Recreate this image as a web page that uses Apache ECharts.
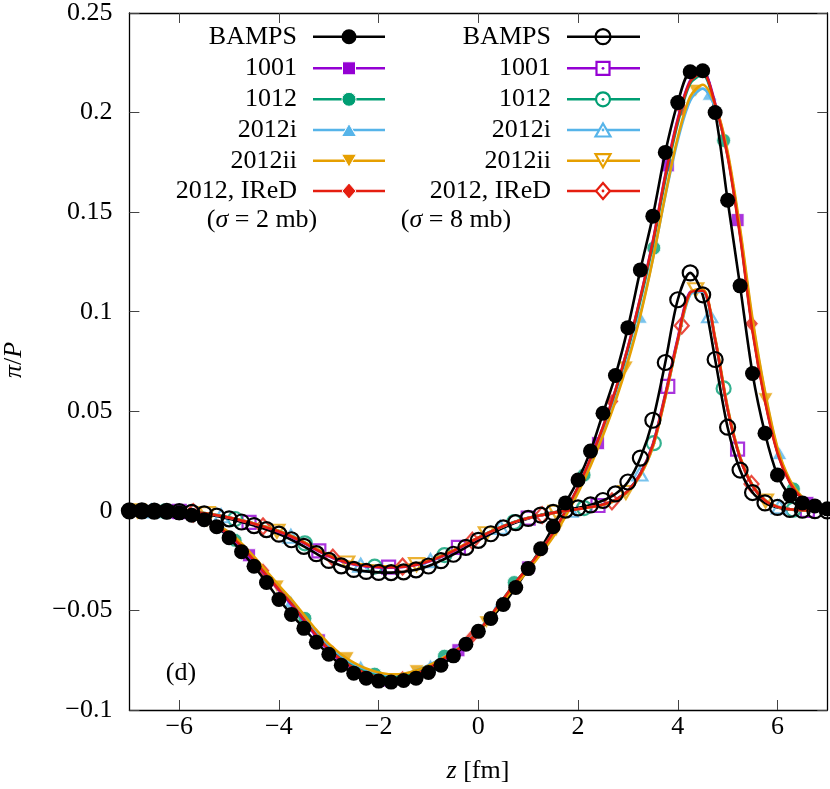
<!DOCTYPE html>
<html>
<head>
<meta charset="utf-8">
<script src="https://cdn.jsdelivr.net/npm/echarts@6/dist/echarts.min.js"></script>
<style>
  html, body { margin: 0; padding: 0; background: #fff; }
  #chart { width: 830px; height: 789px; }
</style>
</head>
<body>
<div id="chart"></div>
<script>
// z grid (fm) for all curves
const zGrid = [-7, -6.75, -6.5, -6.25, -6, -5.75, -5.5, -5.25, -5, -4.75,
  -4.5, -4.25, -4, -3.75, -3.5, -3.25, -3, -2.75, -2.5, -2.25,
  -2, -1.75, -1.5, -1.25, -1, -0.75, -0.5, -0.25, 0, 0.25,
  0.5, 0.75, 1, 1.25, 1.5, 1.75, 2, 2.25, 2.5, 2.75,
  3, 3.25, 3.5, 3.75, 4, 4.25, 4.5, 4.75, 5, 5.25,
  5.5, 5.75, 6, 6.25, 6.5, 6.75, 7];

const xTicks = [-6, -4, -2, 0, 2, 4, 6];
const seriesNames = ['BAMPS', '1001', '1012', '2012i', '2012ii', '2012, IReD'];

// sigma = 2 mb
const bamps2 = [0.0000, 0.0000, -0.0002, -0.0005, -0.0010, -0.0022, -0.0045, -0.0080, -0.0135, -0.0205,
  -0.0278, -0.0360, -0.0445, -0.0520, -0.0590, -0.0660, -0.0720, -0.0775, -0.0815, -0.0840,
  -0.0855, -0.0860, -0.0852, -0.0840, -0.0812, -0.0775, -0.0728, -0.0670, -0.0605, -0.0540,
  -0.0470, -0.0385, -0.0290, -0.0190, -0.0080, 0.0040, 0.0155, 0.0300, 0.0490, 0.0680,
  0.0920, 0.1210, 0.1480, 0.1800, 0.2050, 0.2205, 0.2210, 0.2000, 0.1560, 0.1130,
  0.0690, 0.0390, 0.0180, 0.0078, 0.0040, 0.0025, 0.0010];
const m1001_2 = [0.0000, 0.0000, -0.0003, -0.0006, -0.0012, -0.0024, -0.0047, -0.0081, -0.0124, -0.0183,
  -0.0253, -0.0327, -0.0400, -0.0472, -0.0552, -0.0632, -0.0702, -0.0755, -0.0795, -0.0824,
  -0.0844, -0.0853, -0.0847, -0.0826, -0.0795, -0.0757, -0.0716, -0.0668, -0.0607, -0.0527,
  -0.0444, -0.0360, -0.0284, -0.0202, -0.0111, 0.0000, 0.0121, 0.0263, 0.0422, 0.0607,
  0.0822, 0.1073, 0.1355, 0.1688, 0.1968, 0.2162, 0.2205, 0.2048, 0.1792, 0.1395,
  0.0912, 0.0558, 0.0295, 0.0143, 0.0062, 0.0023, 0.0006];
const m1012_2 = [0.0000, 0.0000, -0.0003, -0.0006, -0.0012, -0.0023, -0.0044, -0.0076, -0.0117, -0.0174,
  -0.0243, -0.0316, -0.0388, -0.0458, -0.0537, -0.0615, -0.0684, -0.0737, -0.0776, -0.0806,
  -0.0826, -0.0836, -0.0832, -0.0813, -0.0785, -0.0748, -0.0709, -0.0663, -0.0603, -0.0524,
  -0.0441, -0.0357, -0.0281, -0.0199, -0.0110, -0.0002, 0.0117, 0.0257, 0.0413, 0.0596,
  0.0808, 0.1055, 0.1335, 0.1662, 0.1945, 0.2145, 0.2190, 0.2035, 0.1785, 0.1390,
  0.0912, 0.0560, 0.0297, 0.0144, 0.0062, 0.0023, 0.0006];
const m2012i_2 = [0.0000, 0.0000, -0.0003, -0.0006, -0.0011, -0.0021, -0.0041, -0.0072, -0.0112, -0.0168,
  -0.0236, -0.0309, -0.0381, -0.0451, -0.0529, -0.0607, -0.0675, -0.0728, -0.0768, -0.0797,
  -0.0816, -0.0824, -0.0819, -0.0801, -0.0775, -0.0741, -0.0704, -0.0660, -0.0602, -0.0527,
  -0.0448, -0.0366, -0.0291, -0.0211, -0.0124, -0.0018, 0.0100, 0.0236, 0.0388, 0.0560,
  0.0760, 0.0990, 0.1265, 0.1580, 0.1860, 0.2060, 0.2120, 0.2025, 0.1790, 0.1405,
  0.0950, 0.0590, 0.0310, 0.0150, 0.0066, 0.0025, 0.0007];
const m2012ii_2 = [0.0000, 0.0000, -0.0002, -0.0005, -0.0010, -0.0020, -0.0039, -0.0069, -0.0108, -0.0163,
  -0.0230, -0.0303, -0.0375, -0.0444, -0.0521, -0.0598, -0.0667, -0.0721, -0.0762, -0.0792,
  -0.0812, -0.0821, -0.0818, -0.0802, -0.0777, -0.0744, -0.0708, -0.0664, -0.0607, -0.0533,
  -0.0454, -0.0373, -0.0298, -0.0218, -0.0132, -0.0028, 0.0090, 0.0225, 0.0378, 0.0550,
  0.0748, 0.0980, 0.1262, 0.1585, 0.1875, 0.2080, 0.2140, 0.2040, 0.1805, 0.1420,
  0.0965, 0.0600, 0.0318, 0.0155, 0.0068, 0.0026, 0.0007];
const mIReD_2 = [0.0000, 0.0000, -0.0003, -0.0006, -0.0012, -0.0023, -0.0045, -0.0078, -0.0120, -0.0178,
  -0.0248, -0.0322, -0.0395, -0.0465, -0.0545, -0.0625, -0.0695, -0.0748, -0.0788, -0.0816,
  -0.0836, -0.0846, -0.0840, -0.0820, -0.0790, -0.0752, -0.0712, -0.0665, -0.0605, -0.0525,
  -0.0442, -0.0358, -0.0282, -0.0200, -0.0110, 0.0000, 0.0120, 0.0262, 0.0420, 0.0605,
  0.0820, 0.1070, 0.1350, 0.1680, 0.1960, 0.2155, 0.2200, 0.2040, 0.1780, 0.1380,
  0.0900, 0.0550, 0.0290, 0.0140, 0.0060, 0.0022, 0.0006];

// sigma = 8 mb
const bamps8 = [0.0000, 0.0000, -0.0001, -0.0002, -0.0004, -0.0008, -0.0015, -0.0026, -0.0040, -0.0056,
  -0.0074, -0.0094, -0.0117, -0.0145, -0.0178, -0.0215, -0.0249, -0.0276, -0.0294, -0.0304,
  -0.0309, -0.0310, -0.0306, -0.0296, -0.0277, -0.0250, -0.0218, -0.0183, -0.0148, -0.0115,
  -0.0085, -0.0059, -0.0038, -0.0021, -0.0008, 0.0004, 0.0015, 0.0030, 0.0052, 0.0085,
  0.0145, 0.0265, 0.0455, 0.0745, 0.1060, 0.1195, 0.1085, 0.0760, 0.0420, 0.0205,
  0.0092, 0.0040, 0.0017, 0.0007, 0.0003, 0.0001, 0.0000];
const m1001_8 = [0.0000, 0.0000, -0.0001, -0.0002, -0.0003, -0.0006, -0.0012, -0.0022, -0.0035, -0.0050,
  -0.0066, -0.0084, -0.0106, -0.0131, -0.0162, -0.0197, -0.0228, -0.0253, -0.0269, -0.0279,
  -0.0284, -0.0285, -0.0282, -0.0272, -0.0255, -0.0232, -0.0203, -0.0170, -0.0137, -0.0106,
  -0.0078, -0.0055, -0.0037, -0.0023, -0.0011, 0.0000, 0.0009, 0.0019, 0.0032, 0.0055,
  0.0101, 0.0188, 0.0335, 0.0588, 0.0868, 0.1100, 0.1108, 0.0862, 0.0512, 0.0266,
  0.0126, 0.0053, 0.0020, 0.0008, 0.0003, 0.0001, 0.0000];
const m1012_8 = [0.0000, 0.0000, -0.0001, -0.0002, -0.0003, -0.0006, -0.0011, -0.0021, -0.0033, -0.0047,
  -0.0063, -0.0081, -0.0101, -0.0126, -0.0157, -0.0191, -0.0222, -0.0247, -0.0263, -0.0273,
  -0.0278, -0.0279, -0.0276, -0.0266, -0.0250, -0.0227, -0.0199, -0.0167, -0.0134, -0.0103,
  -0.0076, -0.0053, -0.0035, -0.0021, -0.0010, 0.0000, 0.0009, 0.0019, 0.0032, 0.0055,
  0.0100, 0.0184, 0.0328, 0.0575, 0.0855, 0.1090, 0.1102, 0.0858, 0.0510, 0.0266,
  0.0126, 0.0053, 0.0020, 0.0008, 0.0003, 0.0001, 0.0000];
const m2012i_8 = [0.0000, 0.0000, -0.0001, -0.0002, -0.0003, -0.0006, -0.0011, -0.0021, -0.0033, -0.0047,
  -0.0063, -0.0081, -0.0101, -0.0126, -0.0157, -0.0191, -0.0223, -0.0249, -0.0265, -0.0275,
  -0.0280, -0.0281, -0.0278, -0.0268, -0.0251, -0.0228, -0.0200, -0.0167, -0.0134, -0.0104,
  -0.0077, -0.0054, -0.0036, -0.0022, -0.0010, 0.0000, 0.0009, 0.0018, 0.0030, 0.0052,
  0.0096, 0.0180, 0.0322, 0.0570, 0.0850, 0.1085, 0.1100, 0.0865, 0.0518, 0.0270,
  0.0128, 0.0054, 0.0021, 0.0008, 0.0003, 0.0001, 0.0000];
const m2012ii_8 = [0.0000, 0.0000, -0.0001, -0.0002, -0.0003, -0.0006, -0.0011, -0.0021, -0.0033, -0.0047,
  -0.0063, -0.0081, -0.0101, -0.0126, -0.0156, -0.0190, -0.0221, -0.0246, -0.0262, -0.0272,
  -0.0277, -0.0278, -0.0275, -0.0265, -0.0249, -0.0226, -0.0198, -0.0166, -0.0134, -0.0104,
  -0.0077, -0.0054, -0.0036, -0.0022, -0.0010, 0.0000, 0.0009, 0.0018, 0.0030, 0.0052,
  0.0095, 0.0178, 0.0320, 0.0568, 0.0852, 0.1095, 0.1112, 0.0870, 0.0522, 0.0272,
  0.0129, 0.0054, 0.0021, 0.0008, 0.0003, 0.0001, 0.0000];
const mIReD_8 = [0.0000, 0.0000, -0.0001, -0.0002, -0.0003, -0.0006, -0.0012, -0.0022, -0.0034, -0.0049,
  -0.0065, -0.0083, -0.0104, -0.0129, -0.0160, -0.0195, -0.0226, -0.0251, -0.0267, -0.0277,
  -0.0282, -0.0283, -0.0280, -0.0270, -0.0253, -0.0230, -0.0201, -0.0168, -0.0135, -0.0104,
  -0.0077, -0.0054, -0.0036, -0.0022, -0.0010, 0.0000, 0.0009, 0.0019, 0.0032, 0.0055,
  0.0100, 0.0185, 0.0330, 0.0580, 0.0860, 0.1095, 0.1105, 0.0860, 0.0510, 0.0265,
  0.0125, 0.0052, 0.0020, 0.0008, 0.0003, 0.0001, 0.0000];

// marker positions of the model curves (every 1.4 fm, shifted per model)
const markZ_1001 = [-6.0, -4.6, -3.2, -1.8, -0.4, 1.0, 2.4, 3.8, 5.2, 6.6];
const markZ_1012 = [-6.28, -4.88, -3.48, -2.08, -0.68, 0.72, 2.12, 3.52, 4.92, 6.32];
const markZ_2012i = [-6.56, -5.16, -3.76, -2.36, -0.96, 0.44, 1.84, 3.24, 4.64, 6.04];
const markZ_2012ii = [-6.84, -5.44, -4.04, -2.64, -1.24, 0.16, 1.56, 2.96, 4.36, 5.76];
const markZ_IReD = [-5.72, -4.32, -2.92, -1.52, -0.12, 1.28, 2.68, 4.08, 5.48];

const mark1001_2 = [-0.0012, -0.0223, -0.0650, -0.0852, -0.0700, -0.0284, 0.0340, 0.1735, 0.1460, 0.0040];
const mark1012_2 = [-0.0006, -0.0148, -0.0540, -0.0820, -0.0730, -0.0360, 0.0180, 0.1320, 0.1860, 0.0110];
const mark2012i_2 = [-0.0003, -0.0080, -0.0455, -0.0780, -0.0775, -0.0460, 0.0020, 0.0975, 0.2095, 0.0290];
const mark2012ii_2 = [0.0000, -0.0052, -0.0380, -0.0740, -0.0805, -0.0560, -0.0100, 0.0720, 0.2110, 0.0560];
const markIReD_2 = [-0.0025, -0.0300, -0.0712, -0.0840, -0.0630, -0.0190, 0.0550, 0.2020, 0.0940];

const mark1001_8 = [-0.0003, -0.0058, -0.0201, -0.0283, -0.0183, -0.0036, 0.0027, 0.0625, 0.0310, 0.0002];
const mark1012_8 = [-0.0002, -0.0041, -0.0163, -0.0280, -0.0222, -0.0056, 0.0014, 0.0340, 0.0615, 0.0006];
const mark2012i_8 = [-0.0001, -0.0025, -0.0128, -0.0273, -0.0250, -0.0083, 0.0003, 0.0185, 0.0980, 0.0020];
const mark2012ii_8 = [0.0000, -0.0014, -0.0102, -0.0262, -0.0270, -0.0115, -0.0007, 0.0092, 0.1110, 0.0050];
const markIReD_8 = [-0.0006, -0.0078, -0.0235, -0.0280, -0.0150, -0.0021, 0.0048, 0.0930, 0.0135];

const FONT = 'Liberation Serif';
const FS = 26;

const models = [
  {name: seriesNames[1], color: '#9400d3', sym: 'rect', size: [13, 13], rot: 0, mz: markZ_1001, l2: m1001_2, l8: m1001_8, p2: mark1001_2, p8: mark1001_8},
  {name: seriesNames[2], color: '#009e73', sym: 'circle', size: [14, 14], rot: 0, mz: markZ_1012, l2: m1012_2, l8: m1012_8, p2: mark1012_2, p8: mark1012_8},
  {name: seriesNames[3], color: '#56b4e9', sym: 'triangle', size: [15, 13], rot: 0, mz: markZ_2012i, l2: m2012i_2, l8: m2012i_8, p2: mark2012i_2, p8: mark2012i_8},
  {name: seriesNames[4], color: '#e69f00', sym: 'triangle', size: [15, 13], rot: 180, mz: markZ_2012ii, l2: m2012ii_2, l8: m2012ii_8, p2: mark2012ii_2, p8: mark2012ii_8},
  {name: seriesNames[5], color: '#e51e10', sym: 'diamond', size: [14, 16], rot: 0, mz: markZ_IReD, l2: mIReD_2, l8: mIReD_8, p2: markIReD_2, p8: markIReD_8}
];

function lineData(vals) { return zGrid.map((z, i) => [z, vals[i]]); }
function markData(zs, vals) { return zs.map((z, i) => [z, vals[i]]); }

const LW = 2.6;
const series = [];

function addBamps(vals, filled) {
  series.push({
    type: 'line', name: 'BAMPS', data: lineData(vals), smooth: 0.3,
    symbol: 'circle', symbolSize: 15, showSymbol: true, showAllSymbol: true,
    itemStyle: filled ? {color: '#000'} : {color: 'rgba(0,0,0,0)', borderColor: '#000', borderWidth: 2.2},
    lineStyle: {color: '#000', width: LW}
  });
}

function addModel(m, lvals, pvals, filled) {
  series.push({
    type: 'line', name: m.name, data: lineData(lvals), smooth: 0.3, showSymbol: false,
    lineStyle: {color: m.color, width: LW}
  });
  series.push({
    type: 'scatter', name: m.name, data: markData(m.mz, pvals),
    symbol: m.sym, symbolSize: m.size, symbolRotate: m.rot,
    itemStyle: filled ? {color: m.color, borderColor: '#fff', borderWidth: 1}
                      : {color: '#fff', borderColor: m.color, borderWidth: 2.2}
  });
  if (!filled) {
    series.push({
      type: 'scatter', name: m.name, data: markData(m.mz, pvals),
      symbol: 'circle', symbolSize: 3, itemStyle: {color: m.color}
    });
  }
}

addBamps(bamps2, true);
models.forEach(m => addModel(m, m.l2, m.p2, true));
addBamps(bamps8, false);
models.forEach(m => addModel(m, m.l8, m.p8, false));

// legend drawn as graphic elements (two columns)
const rowY = [36.7, 68.3, 99.3, 130, 160.7, 191];
const cols = [{textX: 297, x0: 313, x1: 385, mx: 349, filled: true},
              {textX: 551, x0: 567, x1: 640, mx: 603, filled: false}];
const italic = {fontStyle: 'italic', fontFamily: FONT, fontSize: FS};

function txt(x, y, text, align, extra) {
  return Object.assign({
    type: 'text', x: x, y: y, z: 100,
    style: {text: text, fontFamily: FONT, fontSize: FS, fill: '#000', align: align, verticalAlign: 'middle', rich: {i: italic}}
  }, extra || {});
}

function markerShape(kind, rot, w, h, cx, cy, color, filled) {
  const style = filled ? {fill: color, stroke: '#fff', lineWidth: 1} : {fill: '#fff', stroke: color, lineWidth: 2.2};
  if (kind === 'circle') return {type: 'circle', z: 101, shape: {cx: cx, cy: cy, r: w / 2}, style: style};
  if (kind === 'rect') return {type: 'rect', z: 101, shape: {x: cx - w / 2, y: cy - h / 2, width: w, height: h}, style: style};
  if (kind === 'diamond') return {type: 'polygon', z: 101, shape: {points: [[cx, cy - h / 2], [cx + w / 2, cy], [cx, cy + h / 2], [cx - w / 2, cy]]}, style: style};
  const s = rot ? -1 : 1;
  return {type: 'polygon', z: 101, shape: {points: [[cx, cy - s * h / 2], [cx + w / 2, cy + s * h / 2], [cx - w / 2, cy + s * h / 2]]}, style: style};
}

const graphics = [];
cols.forEach(c => {
  // BAMPS row
  graphics.push(txt(c.textX, rowY[0], seriesNames[0], 'right'));
  graphics.push({type: 'line', z: 100, shape: {x1: c.x0, y1: rowY[0], x2: c.x1, y2: rowY[0]}, style: {stroke: '#000', lineWidth: LW}});
  graphics.push({type: 'circle', z: 101, shape: {cx: c.mx, cy: rowY[0], r: 7.5},
    style: c.filled ? {fill: '#000'} : {fill: 'rgba(0,0,0,0)', stroke: '#000', lineWidth: 2.2}});
  models.forEach((m, k) => {
    const y = rowY[k + 1];
    graphics.push(txt(c.textX, y, m.name, 'right'));
    graphics.push({type: 'line', z: 100, shape: {x1: c.x0, y1: y, x2: c.x1, y2: y}, style: {stroke: m.color, lineWidth: LW}});
    graphics.push(markerShape(m.sym, m.rot, m.size[0], m.size[1], c.mx, y, m.color, c.filled));
    if (!c.filled) graphics.push({type: 'circle', z: 102, shape: {cx: c.mx, cy: y, r: 1.4}, style: {fill: m.color}});
  });
});
graphics.push(txt(262, 220, '({i|σ} = 2 mb)', 'center'));
graphics.push(txt(456, 220, '({i|σ} = 8 mb)', 'center'));
graphics.push(txt(181, 673, '(d)', 'center'));
graphics.push(txt(478, 771, '{i|z} [fm]', 'center'));
graphics.push(txt(14, 360, '{i|π}/{i|P}', 'center', {rotation: Math.PI / 2}));

const tickStyle = {show: true, inside: true, length: 10, lineStyle: {color: '#444', width: 1}};
const frameLine = {show: true, onZero: false, lineStyle: {color: '#000', width: 1.3}};
const fmt = v => (Math.round(v * 1000) / 1000).toString().replace('-', '\u2212');

const option = {
  animation: false,
  backgroundColor: '#fff',
  grid: {left: 129.4, right: 2.7, top: 12.7, bottom: 79},
  xAxis: [
    {type: 'value', min: -7, max: 7, position: 'bottom',
     axisLine: frameLine, splitLine: {show: false},
     axisTick: Object.assign({customValues: xTicks}, tickStyle),
     axisLabel: {customValues: xTicks, formatter: fmt, color: '#000', fontFamily: FONT, fontSize: FS, margin: 4}},
    {type: 'value', min: -7, max: 7, position: 'top',
     axisLine: frameLine, splitLine: {show: false},
     axisTick: Object.assign({customValues: xTicks}, tickStyle),
     axisLabel: {show: false}}
  ],
  yAxis: [
    {type: 'value', min: -0.1, max: 0.25, interval: 0.05, position: 'left',
     axisLine: frameLine, splitLine: {show: false}, axisTick: tickStyle,
     axisLabel: {formatter: fmt, color: '#000', fontFamily: FONT, fontSize: FS, margin: 17}},
    {type: 'value', min: -0.1, max: 0.25, interval: 0.05, position: 'right',
     axisLine: frameLine, splitLine: {show: false}, axisTick: tickStyle,
     axisLabel: {show: false}}
  ],
  graphic: graphics,
  series: series
};

const chart = echarts.init(document.getElementById('chart'), null, {renderer: 'canvas'});
chart.setOption(option);
</script>
</body>
</html>
